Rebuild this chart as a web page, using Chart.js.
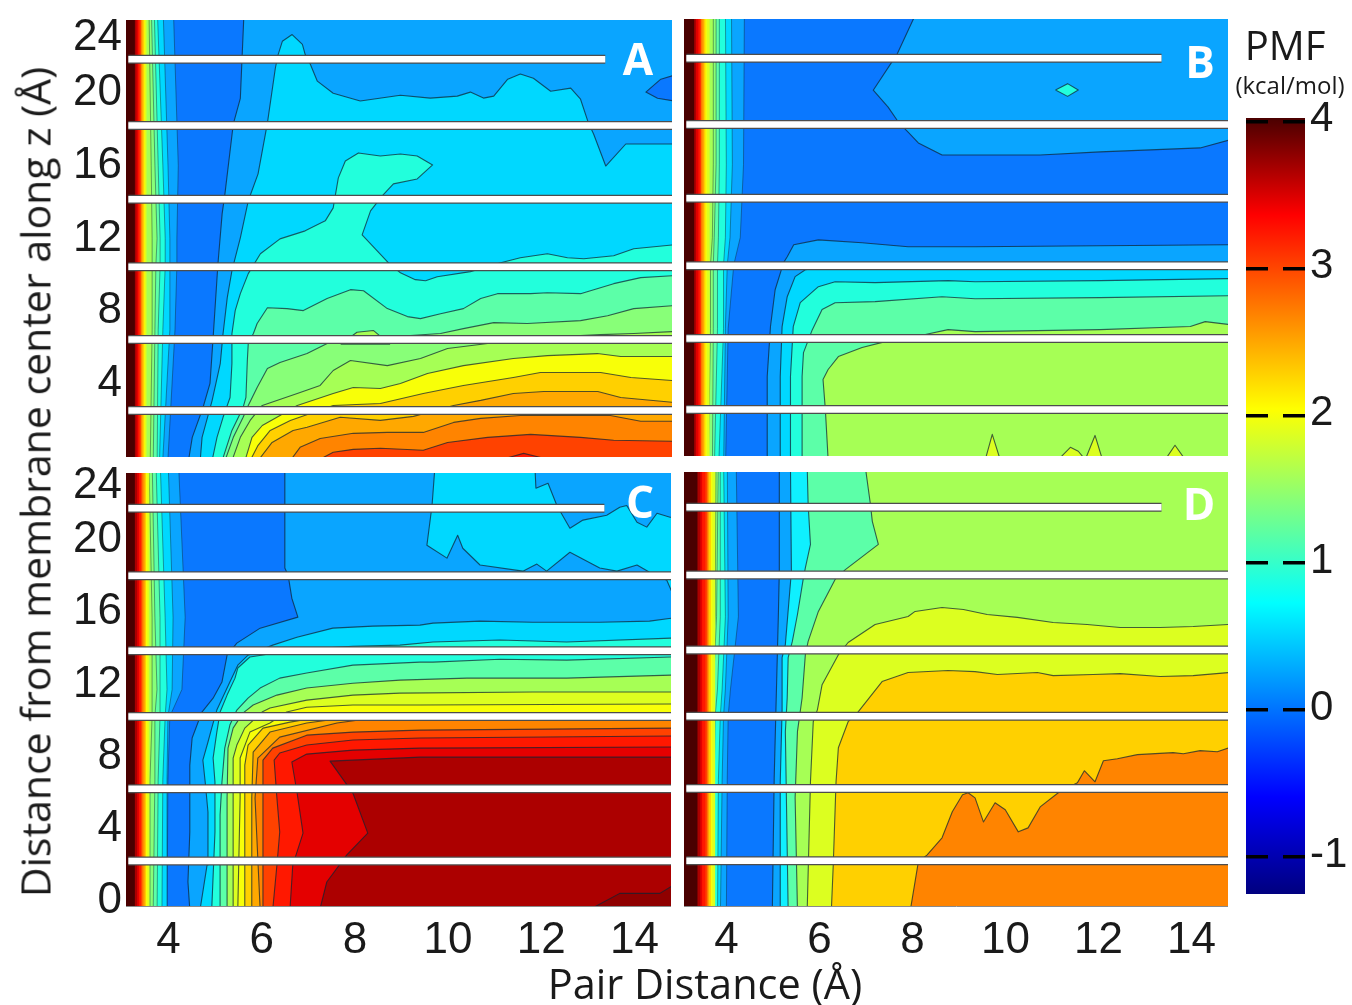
<!DOCTYPE html>
<html lang="en">
<head>
<meta charset="UTF-8">
<title>PMF maps</title>
<script src="https://cdn.jsdelivr.net/npm/chart.js"></script>
<style>
    html, body { margin: 0; padding: 0; background: #fff; }
    body { width: 1352px; height: 1005px; position: relative; overflow: hidden; }
    canvas { position: absolute; filter: blur(0.5px); }
    .lbl { position: absolute; white-space: nowrap; color: #1a1a1a; font-family: "Open Sans", sans-serif; transform: translate(-50%, -50%); line-height: 1; }
    .letter { color: #fff; font-weight: 700; font-size: 44px; }
</style>
</head>
<body>
<canvas id="panelA"></canvas>
<canvas id="panelB"></canvas>
<canvas id="panelC"></canvas>
<canvas id="panelD"></canvas>
<canvas id="colorbar"></canvas>
<div class="lbl letter" style="left:638px;top:58px">A</div>
<div class="lbl letter" style="left:1200px;top:61px">B</div>
<div class="lbl letter" style="left:640px;top:501px">C</div>
<div class="lbl letter" style="left:1199px;top:503px">D</div>
<div class="lbl" style="left:705px;top:984px;font-size:41.5px">Pair Distance (Å)</div>
<div class="lbl" style="left:35px;top:482px;font-size:41px;transform:translate(-50%,-50%) rotate(-90deg)">Distance from membrane center along z (Å)</div>
<div class="lbl" style="left:1285px;top:45px;font-size:40px">PMF</div>
<div class="lbl" style="left:1290px;top:85px;font-size:24px">(kcal/mol)</div>
<script>
// tick labels
const xTicks = [4, 6, 8, 10, 12, 14];
const zTicksTop = [4, 8, 12, 16, 20, 24];
const zTicksBottom = [0, 4, 8, 12, 16, 20, 24];
const pmfTicks = [-1, 0, 1, 2, 3, 4];

// z of the blanked rows, and where the topmost one stops along x
const gapsTop = [21.85, 18.2, 14.15, 10.45, 6.45, 2.55];
const gapsBottom = [22.05, 18.3, 14.15, 10.5, 6.5, 2.5];
const firstGapEnd = 13.42;

// near-wall contours: x where PMF crosses each level, at the z rows of wallZ
const wallZ = [-1, 7, 10.5, 12, 16, 25];
const wallLowKeys = ['b25', 'b50', 'b75', 'b100', 'b125', 'b150'];
const wallHiKeys = ['b175', 'b200', 'b225', 'b250', 'b275', 'b300', 'b325', 'b350', 'b375', 'b400'];
const wallLowA = [
    [4.03, 4.2, 4.24, 4.24, 4.27, 4.16],
    [3.92, 4.09, 4.09, 4.09, 4.05, 3.94],
    [3.86, 3.94, 3.99, 3.99, 3.94, 3.815],
    [3.815, 3.84, 3.88, 3.88, 3.84, 3.75],
    [3.73, 3.77, 3.79, 3.815, 3.77, 3.69],
    [3.665, 3.71, 3.71, 3.71, 3.69, 3.64]
];
const wallHiA = [3.59, 3.56, 3.54, 3.51, 3.49, 3.47, 3.44, 3.41, 3.375, 3.34];
const wallLowB = [
    [4.04, 4.1, 4.22, 4.36, 4.43, 4.45],
    [4.0, 4.04, 4.08, 4.14, 4.19, 4.17],
    [3.89, 4.0, 4.0, 4.04, 4.06, 4.04],
    [3.8, 3.87, 3.87, 3.89, 3.91, 3.91],
    [3.76, 3.78, 3.78, 3.8, 3.84, 3.84],
    [3.67, 3.72, 3.72, 3.76, 3.78, 3.78]
];
const wallHiB = [3.7, 3.64, 3.61, 3.58, 3.55, 3.52, 3.5, 3.46, 3.41, 3.37];
const wallLowC = [
    [4.03, 4.05, 4.09, 4.35, 4.42, 4.27],
    [4.01, 4.03, 4.05, 4.14, 4.16, 4.05],
    [3.92, 3.94, 3.99, 4.03, 3.99, 3.88],
    [3.815, 3.84, 3.88, 3.88, 3.88, 3.79],
    [3.73, 3.77, 3.77, 3.815, 3.77, 3.71],
    [3.665, 3.665, 3.71, 3.71, 3.71, 3.64]
];
const wallHiC = [3.65, 3.61, 3.58, 3.56, 3.53, 3.5, 3.47, 3.43, 3.39, 3.34];
const wallLowD = [
    [4.06, 4.08, 4.1, 4.15, 4.32, 4.27],
    [3.93, 3.97, 4.0, 4.04, 4.1, 4.08],
    [3.87, 3.89, 3.93, 3.97, 4.04, 4.0],
    [3.78, 3.8, 3.82, 3.87, 3.93, 3.93],
    [3.74, 3.76, 3.76, 3.78, 3.85, 3.89],
    [3.67, 3.69, 3.69, 3.72, 3.82, 3.84]
];
const wallHiD = [3.82, 3.76, 3.73, 3.69, 3.67, 3.65, 3.61, 3.54, 3.5, 3.44];

// panel A contours, [pair distance, z]
const A25 = [[5.68,24.5],[5.6,19.7],[5.45,18.3],[5.27,14.45],[5.21,13.35],[5.12,10.6],[5.02,6.67],[4.95,4.04],[4.8,2.72],[4.57,1.08],[4.47,-0.5]];
const A50 = [[4.74,-0.2],[4.78,1.08],[4.995,3.1],[5.17,5.13],[5.23,6.78],[5.32,8.75],[5.42,10.23],[5.6,12.04],[5.77,14.07],[5.98,15.55],[6.18,18.34],[6.35,21.35],[6.41,22.1],[6.5,22.83],[6.71,23.2],[6.93,22.66],[6.99,22.1],[7.1,21.57],[7.25,20.64],[7.59,19.98],[8.17,19.55],[9.03,19.87],[9.67,19.71],[10.25,19.82],[10.53,20.04],[10.81,19.71],[11.03,19.82],[11.33,20.75],[11.6,21.03],[11.88,20.8],[12.25,20.09],[12.68,20.26],[12.89,19.65],[13.06,18.34],[13.17,17.74],[13.43,15.98],[13.86,17.19],[14.18,17.19],[14.87,17.19]];
const Alow = [[14.9,20.97],[14.61,20.75],[14.29,20.04],[14.54,19.7],[14.9,19.55]];
const A75 = [[4.995,-0.2],[5.1,1.08],[5.23,2.18],[5.38,3.27],[5.42,5.13],[5.42,6.78],[5.49,8.04],[5.6,8.97],[5.77,10.07],[6.03,11.16],[6.45,11.98],[6.99,12.42],[7.42,12.97],[7.59,13.68],[7.7,15.33],[7.85,16.26],[8.13,16.7],[8.6,16.53],[9.03,16.64],[9.39,16.53],[9.72,16.04],[9.39,15.27],[8.88,15.0],[8.64,14.34],[8.39,13.52],[8.21,12.2],[8.77,10.67],[9.03,10.12],[9.35,9.74],[9.57,9.68],[9.82,9.9],[10.53,10.18],[11.18,10.67],[11.6,10.94],[12.18,11.16],[12.61,10.94],[12.96,10.89],[13.6,11.05],[14.03,11.44],[14.87,11.65]];
const A100 = [[5.21,-0.2],[5.42,1.46],[5.66,2.72],[5.72,3.27],[5.75,5.3],[5.77,6.23],[5.88,6.78],[5.96,7.33],[6.18,8.2],[6.6,8.15],[6.95,8.04],[7.46,8.7],[7.96,9.19],[8.24,9.13],[8.75,8.15],[9.18,7.71],[9.46,7.6],[9.89,7.87],[10.38,8.15],[10.75,8.7],[11.11,8.97],[11.82,8.97],[12.18,9.02],[12.89,8.97],[13.6,9.52],[14.18,9.85],[14.87,9.96]];
const A125 = [[5.27,-0.2],[5.45,1.08],[5.66,2.18],[5.77,2.83],[5.96,3.82],[6.18,4.86],[6.45,5.19],[7.03,5.68],[7.46,6.23],[8.6,6.56],[9.89,6.78],[10.38,7.05],[11.03,7.38],[11.75,7.33],[12.89,7.49],[13.47,7.76],[14.03,8.15],[14.87,8.31]];
const A150 = [[5.42,-0.2],[5.6,1.08],[5.81,2.01],[6.07,2.83],[6.82,3.49],[7.31,3.93],[7.59,4.75],[7.96,5.3],[8.75,5.02],[9.46,5.41],[10.04,5.96],[10.9,6.23],[12.03,6.56],[13.32,6.72],[14.03,6.78],[14.87,6.89]];
const A150bump = [[7.75,6.2],[8.1,6.85],[8.45,6.95],[8.8,6.2],[7.75,6.2]];
const A200 = [[5.7,-0.2],[5.85,1.08],[6.07,1.73],[6.45,2.28],[6.82,2.83],[7.59,3.49],[8.02,3.82],[8.6,3.76],[9.03,4.04],[9.61,4.59],[10.38,5.02],[11.45,5.41],[12.18,5.57],[13.25,5.68],[13.75,5.52],[14.87,5.52]];
const A225 = [[5.81,-0.2],[5.98,0.64],[6.24,1.46],[6.67,2.01],[7.59,2.83],[8.6,2.94],[9.52,3.49],[10.38,3.93],[11.45,4.37],[12.03,4.64],[13.32,4.64],[13.97,4.37],[14.87,4.2]];
const A250 = [[5.98,-0.2],[6.28,0.8],[6.73,1.46],[7.03,1.63],[7.74,2.18],[8.6,2.01],[9.31,2.23],[10.17,2.83],[10.75,3.11],[11.45,3.49],[12.1,3.6],[13.26,3.6],[13.75,3.27],[14.87,3.0]];
const A275 = [[6.67,-0.2],[6.88,0.53],[7.31,1.02],[8.02,1.3],[8.75,1.35],[9.52,1.35],[10.17,1.9],[10.75,2.12],[11.6,2.28],[13.53,2.28],[14.18,1.96],[14.87,1.96]];
const A300 = [[7.25,-0.2],[7.59,0.26],[8.02,0.42],[8.6,0.48],[9.52,0.37],[10.04,0.8],[10.9,1.08],[11.82,1.24],[12.89,1.08],[13.6,0.92],[14.87,0.86]];
const A325 = [[11.11,-0.2],[11.67,0.2],[12.31,-0.2],[11.11,-0.2]];

// panel B contours
const B25low = [[4.94,-0.2],[4.94,4.37],[5.01,7.11],[5.11,9.13],[5.29,10.61],[5.37,10.94],[5.51,11.6],[6.04,11.87],[6.98,11.71],[7.97,11.49],[9.41,11.49],[12.1,11.55],[14.85,11.6]];
const B25up = [[8.12,24.2],[7.74,22.1],[7.22,20.09],[7.54,19.16],[7.76,18.34],[7.97,17.79],[8.19,17.19],[8.7,16.53],[9.41,16.53],[10.81,16.53],[12.1,16.7],[13.18,16.81],[14.25,16.92],[14.87,17.35]];
const Bspot = [[11.14,20.1],[11.4,20.45],[11.63,20.1],[11.4,19.75],[11.14,20.1]];
const B50 = [[5.22,-0.2],[5.22,4.37],[5.26,7.11],[5.37,8.75],[5.54,9.85],[5.76,10.23],[6.73,10.5],[14.87,10.5]];
const B75 = [[5.44,-0.2],[5.44,4.37],[5.5,7.11],[5.65,8.42],[6.04,9.3],[6.4,9.57],[7.26,9.52],[8.83,9.63],[9.41,9.57],[12.1,9.63],[14.87,9.74]];
const B100 = [[5.69,-0.2],[5.69,4.37],[5.72,5.68],[5.91,6.94],[6.12,8.04],[6.4,8.42],[7.26,8.48],[8.7,8.75],[9.41,8.64],[12.1,8.7],[14.87,8.8]];
const B150 = [[6.25,-0.2],[6.19,2.56],[6.14,4.2],[6.25,4.75],[6.47,5.46],[6.98,5.96],[7.48,6.28],[8.34,6.67],[8.83,6.94],[9.41,6.83],[12.1,6.94],[14.04,7.11],[14.36,7.38],[14.87,7.22]];
const Bspike1 = [[9.63,-0.2],[9.78,1.19],[9.95,-0.2],[9.63,-0.2]];
const Bspike2 = [[11.2,-0.2],[11.46,0.48],[11.63,0.26],[11.78,-0.2],[11.2,-0.2]];
const Bspike3 = [[11.78,-0.2],[11.99,1.13],[12.15,-0.2],[11.78,-0.2]];
const Bspike4 = [[13.5,-0.2],[13.71,0.59],[13.93,-0.2],[13.5,-0.2]];

// panel C contours
const C25 = [[4.52,-0.2],[4.48,1.33],[4.52,4.1],[4.52,7.81],[4.57,9.31],[4.78,10.75],[5.02,11.52],[5.21,12.41],[5.32,13.91],[5.53,14.57],[6.03,15.4],[6.84,16.01],[6.71,17.06],[6.63,18.34],[6.56,18.73],[6.56,24.27]];
const C50up = [[9.78,24.27],[9.72,22.2],[9.61,20],[10.04,19.28],[10.27,20.55],[10.38,19.83],[10.75,18.9],[11.67,18.56],[11.97,18.95],[12.18,18.56],[12.68,19.61],[13.32,18.73],[13.69,18.56],[14.12,18.9],[14.39,18.5],[14.76,18.06],[14.87,17.4],[15.2,17.4],[15.2,21.5],[14.83,21.55],[14.55,21.77],[14.33,21],[14.12,21.27],[13.9,22.2],[13.75,22.1],[13.47,21.66],[12.96,21.39],[12.68,20.94],[12.4,22.2],[12.21,23.43],[11.95,23.16],[11.93,24.27],[9.78,24.27]];
const C50 = [[4.74,-0.2],[4.89,2.27],[4.91,5.21],[4.85,6.87],[4.8,8.09],[4.91,9.09],[4.99,9.86],[5.1,10.86],[5.38,12.41],[5.55,13.35],[5.77,13.9],[6.3,14.46],[6.82,14.9],[7.59,15.4],[8.45,15.51],[9.46,15.57],[9.74,15.68],[10.75,15.79],[11.88,15.73],[13.32,15.73],[14.39,15.79],[14.87,15.96]];
const C75 = [[4.99,-0.2],[5.06,4.1],[5.06,6.87],[5.02,8.2],[5.1,9.64],[5.17,10.75],[5.32,11.69],[5.49,12.63],[5.55,13.19],[5.81,13.8],[6.09,13.91],[6.67,14.18],[8.02,14.4],[9.03,14.46],[9.74,14.63],[11.18,14.74],[12.61,14.63],[14.87,14.85]];
const C100 = [[5.17,-0.2],[5.17,5.04],[5.21,6.87],[5.27,8.75],[5.38,10.03],[5.53,10.86],[5.77,11.52],[6.03,12.08],[6.45,12.63],[7.03,12.91],[8.02,13.35],[9.46,13.52],[9.74,13.52],[11.18,13.68],[12.61,13.63],[14.87,13.8]];
const C150 = [[5.32,-0.2],[5.32,5.98],[5.34,8.75],[5.45,9.86],[5.66,10.69],[5.88,11.14],[6.39,11.69],[7.03,12.08],[8.02,12.35],[9.03,12.52],[10.47,12.63],[12.61,12.63],[14.87,12.8]];
const C175 = [[5.45,-0.2],[5.45,5.98],[5.45,8.2],[5.53,8.92],[5.7,9.86],[6.07,10.75],[6.24,10.97],[7.03,11.41],[8.02,11.69],[9.03,11.8],[11.88,11.86],[14.87,11.86]];
const C200 = [[5.55,-0.2],[5.6,5.98],[5.6,8.2],[5.81,9.64],[6.24,10.14],[6.6,10.75],[7.03,11.02],[8.02,11.14],[9.46,11.14],[14.87,11.2]];
const C225 = [[5.7,-0.2],[5.7,7.81],[5.77,8.92],[6.09,9.86],[6.67,10.19],[7.53,10.58],[14.87,10.58]];
const C250 = [[5.85,-0.2],[5.85,5.98],[5.88,8.53],[6.24,9.64],[7.03,10.14],[7.96,10.47],[14.87,10.47]];
const C275 = [[6.03,-0.2],[5.92,5.98],[5.98,8.2],[6.45,9.36],[7.68,10.14],[8.6,10.47],[14.87,10.47]];
const C300 = [[6.07,-0.2],[6.09,5.98],[6.09,8.09],[6.3,8.75],[7.03,9.47],[8.02,9.64],[9.46,9.75],[14.87,9.86]];
const C325 = [[6.3,-0.2],[6.39,2.27],[6.45,4.1],[6.39,5.98],[6.33,8.09],[6.45,8.48],[7.03,8.92],[8.02,9.2],[9.46,9.31],[14.87,9.42]];
const C350 = [[6.67,-0.2],[6.73,2.27],[6.95,4.04],[6.82,6.32],[6.71,7.98],[7.03,8.42],[8.02,8.64],[9.46,8.75],[14.87,8.81]];
const C375 = [[7.31,-0.2],[7.46,1.33],[7.89,2.83],[8.34,4.04],[8.02,6.26],[7.53,8.03],[9.46,8.25],[14.87,8.25]];
const C390 = [[13.1,-0.2],[13.75,0.7],[14.61,0.7],[14.87,1.1]];

// panel D contours
const D25 = [[5.2,24.27],[5.2,18.5],[5.18,16.12],[5.13,11.14],[5.09,7.09],[5.05,-0.2]];
const D50 = [[5.44,24.3],[5.46,18.5],[5.33,14.46],[5.26,13.74],[5.26,10.86],[5.22,6.87],[5.22,-0.2]];
const D100 = [[5.8,24.27],[5.82,22.2],[5.87,20],[5.76,18.7],[5.72,18.17],[5.59,16.12],[5.48,14.63],[5.39,13.74],[5.37,11.52],[5.33,9.64],[5.39,-0.2]];
const D150 = [[7.05,24.27],[7.16,22.2],[7.2,21.27],[7.33,20],[6.62,18.6],[6.4,18.06],[6.04,16.29],[5.82,14.63],[5.76,13.9],[5.69,11.5],[5.59,9.64],[5.54,5.98],[5.59,-0.2]];
const D175 = [[5.8,-0.2],[5.87,6.87],[5.93,10.19],[6.02,10.86],[6.12,12.24],[6.47,13.9],[6.68,14.57],[7.26,15.57],[7.97,16.01],[8.12,16.29],[8.7,16.51],[9.16,16.4],[9.67,16.12],[10.32,15.96],[11.09,15.68],[11.82,15.57],[12.53,15.4],[13.39,15.4],[14.1,15.46],[14.87,15.57]];
const D225 = [[6.32,-0.2],[6.36,2.27],[6.42,6.87],[6.47,8.75],[6.68,10.19],[6.9,10.75],[7.41,12.41],[7.97,12.91],[8.83,13.02],[9.41,12.96],[9.89,12.8],[10.75,12.91],[11.09,12.74],[11.95,12.8],[12.53,12.85],[13.39,12.69],[14.1,12.74],[14.87,12.91]];
const D275 = [[8.02,-0.2],[8.19,2.44],[8.38,2.83],[8.7,3.77],[8.92,5.21],[9.14,6.15],[9.26,6.26],[9.41,5.98],[9.59,4.65],[9.84,5.71],[10.06,5.32],[10.34,4.1],[10.55,4.32],[10.81,5.48],[11.2,6.26],[11.61,6.81],[11.76,7.48],[11.99,6.87],[12.17,8.03],[12.47,8.14],[12.9,8.37],[13.67,8.48],[13.89,8.42],[14.25,8.59],[14.62,8.53],[14.87,8.75]];
const Dspot = [[11.2,-0.2],[11.29,0.33],[11.52,0.44],[11.57,-0.2],[11.2,-0.2]];

// contour fill colours
const bands = {
    b0: '#0a78ff', b25: '#0aa5ff', b50: '#00d8ff', b60: '#0ff0ff', b75: '#22ffdc', b100: '#5cffa8', b125: '#88ff78',
    b150: '#a6ff55', b175: '#dcff20', b200: '#f8ff08', b225: '#ffd000', b250: '#ffa800', b275: '#ff8400', b300: '#ff4200',
    b325: '#ff1800', b350: '#e40000', b375: '#ac0000', b390: '#8f0000', b400: '#4a0000'
};

const layersA = [['b25', A25], ['b0', Alow], ['b50', A50], ['b75', A75], ['b100', A100], ['b125', A125], ['b150', A150], ['b150', A150bump], ['b200', A200], ['b225', A225], ['b250', A250], ['b275', A275], ['b300', A300], ['b325', A325]];
const layersB = [['b25', B25low], ['b25', B25up], ['b75', Bspot], ['b50', B50], ['b75', B75], ['b100', B100], ['b150', B150], ['b175', Bspike1], ['b175', Bspike2], ['b175', Bspike3], ['b175', Bspike4]];
const layersC = [['b25', C25], ['b50', C50up], ['b50', C50], ['b75', C75], ['b100', C100], ['b150', C150], ['b175', C175], ['b200', C200], ['b225', C225], ['b250', C250], ['b275', C275], ['b300', C300], ['b325', C325], ['b350', C350], ['b375', C375], ['b390', C390]];
const layersD = [['b25', D25], ['b60', D50], ['b100', D100], ['b150', D150], ['b175', D175], ['b225', D225], ['b225', Dspot], ['b275', D275]];

function closeShape(pts) {
    var first = pts[0], last = pts[pts.length - 1];
    if (first[0] === last[0] && first[1] === last[1]) return pts;
    return pts.concat([[16, last[1]], [16, first[1]], first]);
}

function toXY(pts) {
    return pts.map(function (p) { return { x: p[0], y: p[1] }; });
}

function shapeDataset(key, pts, lineWidth) {
    return {
        data: toXY(pts),
        showLine: true,
        fill: 'shape',
        backgroundColor: bands[key],
        borderColor: 'rgba(15,35,50,0.72)',
        borderWidth: lineWidth,
        borderJoinStyle: 'round',
        pointRadius: 0
    };
}

function wallDatasets(low, hi) {
    var out = [];
    low.forEach(function (row, i) {
        var pts = row.map(function (x, j) { return [x, wallZ[j]]; });
        out.push(shapeDataset(wallLowKeys[i], pts.concat([[2, 25], [2, -1], pts[0]]), 0.6));
    });
    hi.forEach(function (x, i) {
        out.push(shapeDataset(wallHiKeys[i], [[x, -1], [x, 25], [2, 25], [2, -1], [x, -1]], 0));
    });
    return out;
}

function gapDatasets(gaps) {
    var out = [];
    ['#4d4d4d', '#ffffff'].forEach(function (color, k) {
        gaps.forEach(function (z, i) {
            out.push({
                data: toXY([[3.2, z], [i === 0 ? firstGapEnd : 15, z]]),
                showLine: true,
                fill: false,
                borderColor: color,
                borderWidth: k === 0 ? 9 : 6.5,
                pointRadius: 0
            });
        });
    });
    return out;
}

// axes keep a fixed size, tick labels may hang past the plot
function fixAxis(s, size) {
    if (s.isHorizontal()) s.height = size; else s.width = size;
    s.paddingTop = s.paddingBottom = s.paddingLeft = s.paddingRight = 0;
}

function drawPanel(id, box, layers, wallLow, wallHi, gaps, opts) {
    var left = opts.zTicks ? 72 : 0;
    var bottom = opts.showX ? 60 : 0;
    var canvas = document.getElementById(id);
    canvas.width = box.r - box.l + left;
    canvas.height = box.b - box.t + 10 + bottom;
    canvas.style.left = (box.l - left) + 'px';
    canvas.style.top = (box.t - 10) + 'px';

    var datasets = [shapeDataset('b0', [[0, -5], [20, -5], [20, 30], [0, 30], [0, -5]], 0)];
    datasets = datasets.concat(wallDatasets(wallLow, wallHi));
    layers.forEach(function (l) { datasets.push(shapeDataset(l[0], closeShape(l[1]), 1.1)); });
    datasets = datasets.concat(gapDatasets(gaps));
    // later datasets go on top
    datasets.forEach(function (d, i) { d.order = datasets.length - i; });

    new Chart(canvas, {
        type: 'scatter',
        data: { datasets: datasets },
        options: {
            responsive: false,
            animation: false,
            layout: { autoPadding: false, padding: { top: 10, left: 0, right: 0, bottom: 0 } },
            plugins: { legend: { display: false }, tooltip: { enabled: false } },
            events: [],
            scales: {
                x: {
                    type: 'linear', min: 3.15, max: 14.85,
                    grid: { display: false },
                    border: { color: '#8a8a8a' },
                    afterFit: function (s) { fixAxis(s, bottom); },
                    afterBuildTicks: function (s) { s.ticks = xTicks.map(function (v) { return { value: v }; }); },
                    ticks: {
                        display: !!opts.showX, autoSkip: false, maxRotation: 0, padding: 0, labelOffset: 3,
                        color: '#1a1a1a', font: { family: 'Liberation Sans', size: 44 },
                        callback: function (v) { return v; }
                    }
                },
                y: {
                    type: 'linear', min: 0, max: 24,
                    grid: { display: false },
                    border: { color: '#8a8a8a' },
                    afterFit: function (s) { fixAxis(s, left); },
                    afterBuildTicks: function (s) {
                        if (!opts.zTicks) { s.ticks = []; return; }
                        // the label of 24 sits inside the panel height
                        s.ticks = opts.zTicks.map(function (v) { return { value: Math.min(v, 23) }; });
                    },
                    ticks: {
                        display: !!opts.zTicks, autoSkip: false, padding: -4, labelOffset: opts.yShift || 0,
                        color: '#1a1a1a', font: { family: 'Liberation Sans', size: 44 },
                        callback: function (v, i) { return opts.zTicks[i]; }
                    }
                }
            }
        }
    });
}

drawPanel('panelA', { l: 126, t: 20, r: 672, b: 457 }, layersA, wallLowA, wallHiA, gapsTop, { zTicks: zTicksTop });
drawPanel('panelB', { l: 684, t: 19, r: 1228, b: 456 }, layersB, wallLowB, wallHiB, gapsTop, {});
drawPanel('panelC', { l: 126, t: 473, r: 671, b: 906 }, layersC, wallLowC, wallHiC, gapsBottom, { zTicks: zTicksBottom, showX: true, yShift: -5 });
drawPanel('panelD', { l: 684, t: 472, r: 1228, b: 906 }, layersD, wallLowD, wallHiD, gapsBottom, { showX: true });

// colour bar: one floating bar filled with the jet ramp
var cb = document.getElementById('colorbar');
cb.width = 106;
cb.height = 796;
cb.style.left = '1246px';
cb.style.top = '100px';
new Chart(cb, {
    type: 'bar',
    data: {
        labels: ['PMF'],
        datasets: [{
            data: [[-1.25, 4.025]],
            barPercentage: 1,
            categoryPercentage: 1,
            borderWidth: 0,
            backgroundColor: function (ctx) {
                var a = ctx.chart.chartArea;
                if (!a) return '#000';
                var g = ctx.chart.ctx.createLinearGradient(0, a.bottom, 0, a.top);
                g.addColorStop(0, '#00007f');
                g.addColorStop(0.125, '#0000ff');
                g.addColorStop(0.375, '#00ffff');
                g.addColorStop(0.625, '#ffff00');
                g.addColorStop(0.875, '#ff0000');
                g.addColorStop(1, '#4a0000');
                return g;
            }
        }]
    },
    options: {
        responsive: false,
        animation: false,
        layout: { autoPadding: false, padding: { top: 18, bottom: 2, left: 0, right: 0 } },
        plugins: { legend: { display: false }, tooltip: { enabled: false } },
        events: [],
        scales: {
            x: { display: false },
            y: {
                position: 'right',
                min: -1.25, max: 4.025,
                border: { display: false, dash: [22, 15] },
                afterFit: function (s) { fixAxis(s, 47); },
                afterBuildTicks: function (s) { s.ticks = pmfTicks.map(function (v) { return { value: v }; }); },
                grid: { color: '#000', lineWidth: 3.5, z: 1, drawTicks: false },
                ticks: {
                    autoSkip: false, padding: 5, labelOffset: -2,
                    color: '#1a1a1a', font: { family: 'Liberation Sans', size: 42 },
                    callback: function (v) { return v; }
                }
            }
        }
    }
});
</script>
</body>
</html>
